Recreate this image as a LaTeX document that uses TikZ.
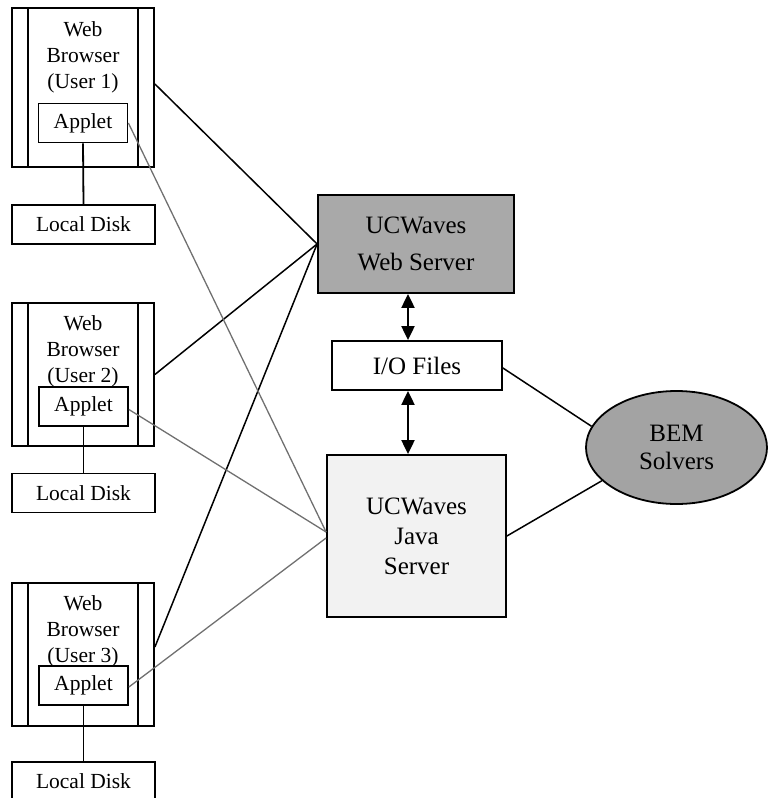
\documentclass[tikz,border=0pt]{standalone}
\usepackage{fontspec}
\setmainfont{Liberation Serif}
\usetikzlibrary{shapes.geometric,arrows.meta,calc}
\definecolor{wsgray}{HTML}{A9A9A9}
\definecolor{jsgray}{HTML}{F2F2F2}
\definecolor{bemgray}{HTML}{A3A3A3}
\definecolor{linkgray}{HTML}{707070}
\begin{document}
\begin{tikzpicture}[x=1pt,y=-1pt,
  box/.style={draw=black,line width=1.8pt,inner sep=0pt,align=center},
  small/.style={font=\fontsize{21.5}{26}\selectfont},
  big/.style={font=\fontsize{25}{30}\selectfont},
  browser/.style={box,minimum width=142pt,minimum height=143pt},
  applet/.style={box,small,fill=white,minimum width=89pt,minimum height=39pt},
  disk/.style={box,small,fill=white,minimum width=143pt,minimum height=39pt},
  btext/.style={small,align=center,inner sep=0pt},
  divider/.style={line width=1.8pt},
  blink/.style={line width=1.5pt,black},
  glink/.style={line width=1.3pt,linkgray},
  dbl/.style={line width=2pt,{Triangle[length=14pt,width=13pt]}-{Triangle[length=14pt,width=13pt]}}
]
\useasboundingbox (0,0) rectangle (768,798);

% Browser 1
\node[browser,minimum height=159pt] (b1) at (83,87.5) {};
\draw[divider] ($(b1.north west)+(17,0)$) -- ($(b1.south west)+(17,0)$);
\draw[divider] ($(b1.north east)+(-17,0)$) -- ($(b1.south east)+(-17,0)$);
\node[btext] (t1) at (83,57) {Web\\Browser\\(User 1)};
\node[applet] (a1) at (83,123) {Applet};
\node[disk] (d1) at (83.5,224.5) {Local Disk};
\draw[divider] (a1.south) -- (d1.north);

% Browser 2
\node[browser] (b2) at (83,374.5) {};
\draw[divider] ($(b2.north west)+(17,0)$) -- ($(b2.south west)+(17,0)$);
\draw[divider] ($(b2.north east)+(-17,0)$) -- ($(b2.south east)+(-17,0)$);
\node[btext] (t2) at (83,351) {Web\\Browser\\(User 2)};
\node[applet] (a2) at (83.5,406.5) {Applet};
\node[disk] (d2) at (83.5,493) {Local Disk};
\draw[divider] (a2.south) -- (d2.north);

% Browser 3
\node[browser] (b3) at (83,654.5) {};
\draw[divider] ($(b3.north west)+(17,0)$) -- ($(b3.south west)+(17,0)$);
\draw[divider] ($(b3.north east)+(-17,0)$) -- ($(b3.south east)+(-17,0)$);
\node[btext] (t3) at (83,631) {Web\\Browser\\(User 3)};
\node[applet] (a3) at (83.5,685.5) {Applet};
\node[disk] (d3) at (83.5,781.5) {Local Disk};
\draw[divider] (a3.south) -- (d3.north);

% Servers
\node[box,big,fill=wsgray,minimum width=196pt,minimum height=98pt,
  font=\fontsize{25}{37}\selectfont] (ws) at (416,244) {UCWaves\\Web Server};
\node[box,big,fill=white,minimum width=170pt,minimum height=49pt] (io) at (417,365.5) {I/O Files};
\node[box,big,fill=jsgray,minimum width=179pt,minimum height=162pt] (js) at (416.5,536) {UCWaves\\Java\\Server};
\node[ellipse,draw=black,line width=1.8pt,fill=bemgray,inner sep=0pt,align=center,
  minimum width=181pt,minimum height=113pt,font=\fontsize{25}{28}\selectfont] (bem) at (676.5,447.5) {BEM\\Solvers};

% Double arrows
\coordinate (ax) at (408,0);
\draw[dbl] (ws.south -| ax) -- (io.north -| ax);
\draw[dbl] (io.south -| ax) -- (js.north -| ax);

% Links to web server
\draw[blink] ([yshift=3.5pt]b1.east) -- (ws.west);
\draw[blink] (b2.east) -- (ws.west);
\draw[blink] ([yshift=7.5pt]b3.east) -- (ws.west);

% Links to java server
\draw[glink] (a1.east) -- ([yshift=4pt]js.west);
\draw[glink] ([yshift=-3pt]a2.east) -- ([yshift=4pt]js.west);
\draw[glink] ([yshift=-1.5pt]a3.east) -- ([yshift=-2pt]js.west);

% Links to BEM solvers
\draw[blink] ([yshift=-2.5pt]io.east) -- (bem.166);
\draw[blink] (js.east) -- (bem.204);
\end{tikzpicture}
\end{document}
